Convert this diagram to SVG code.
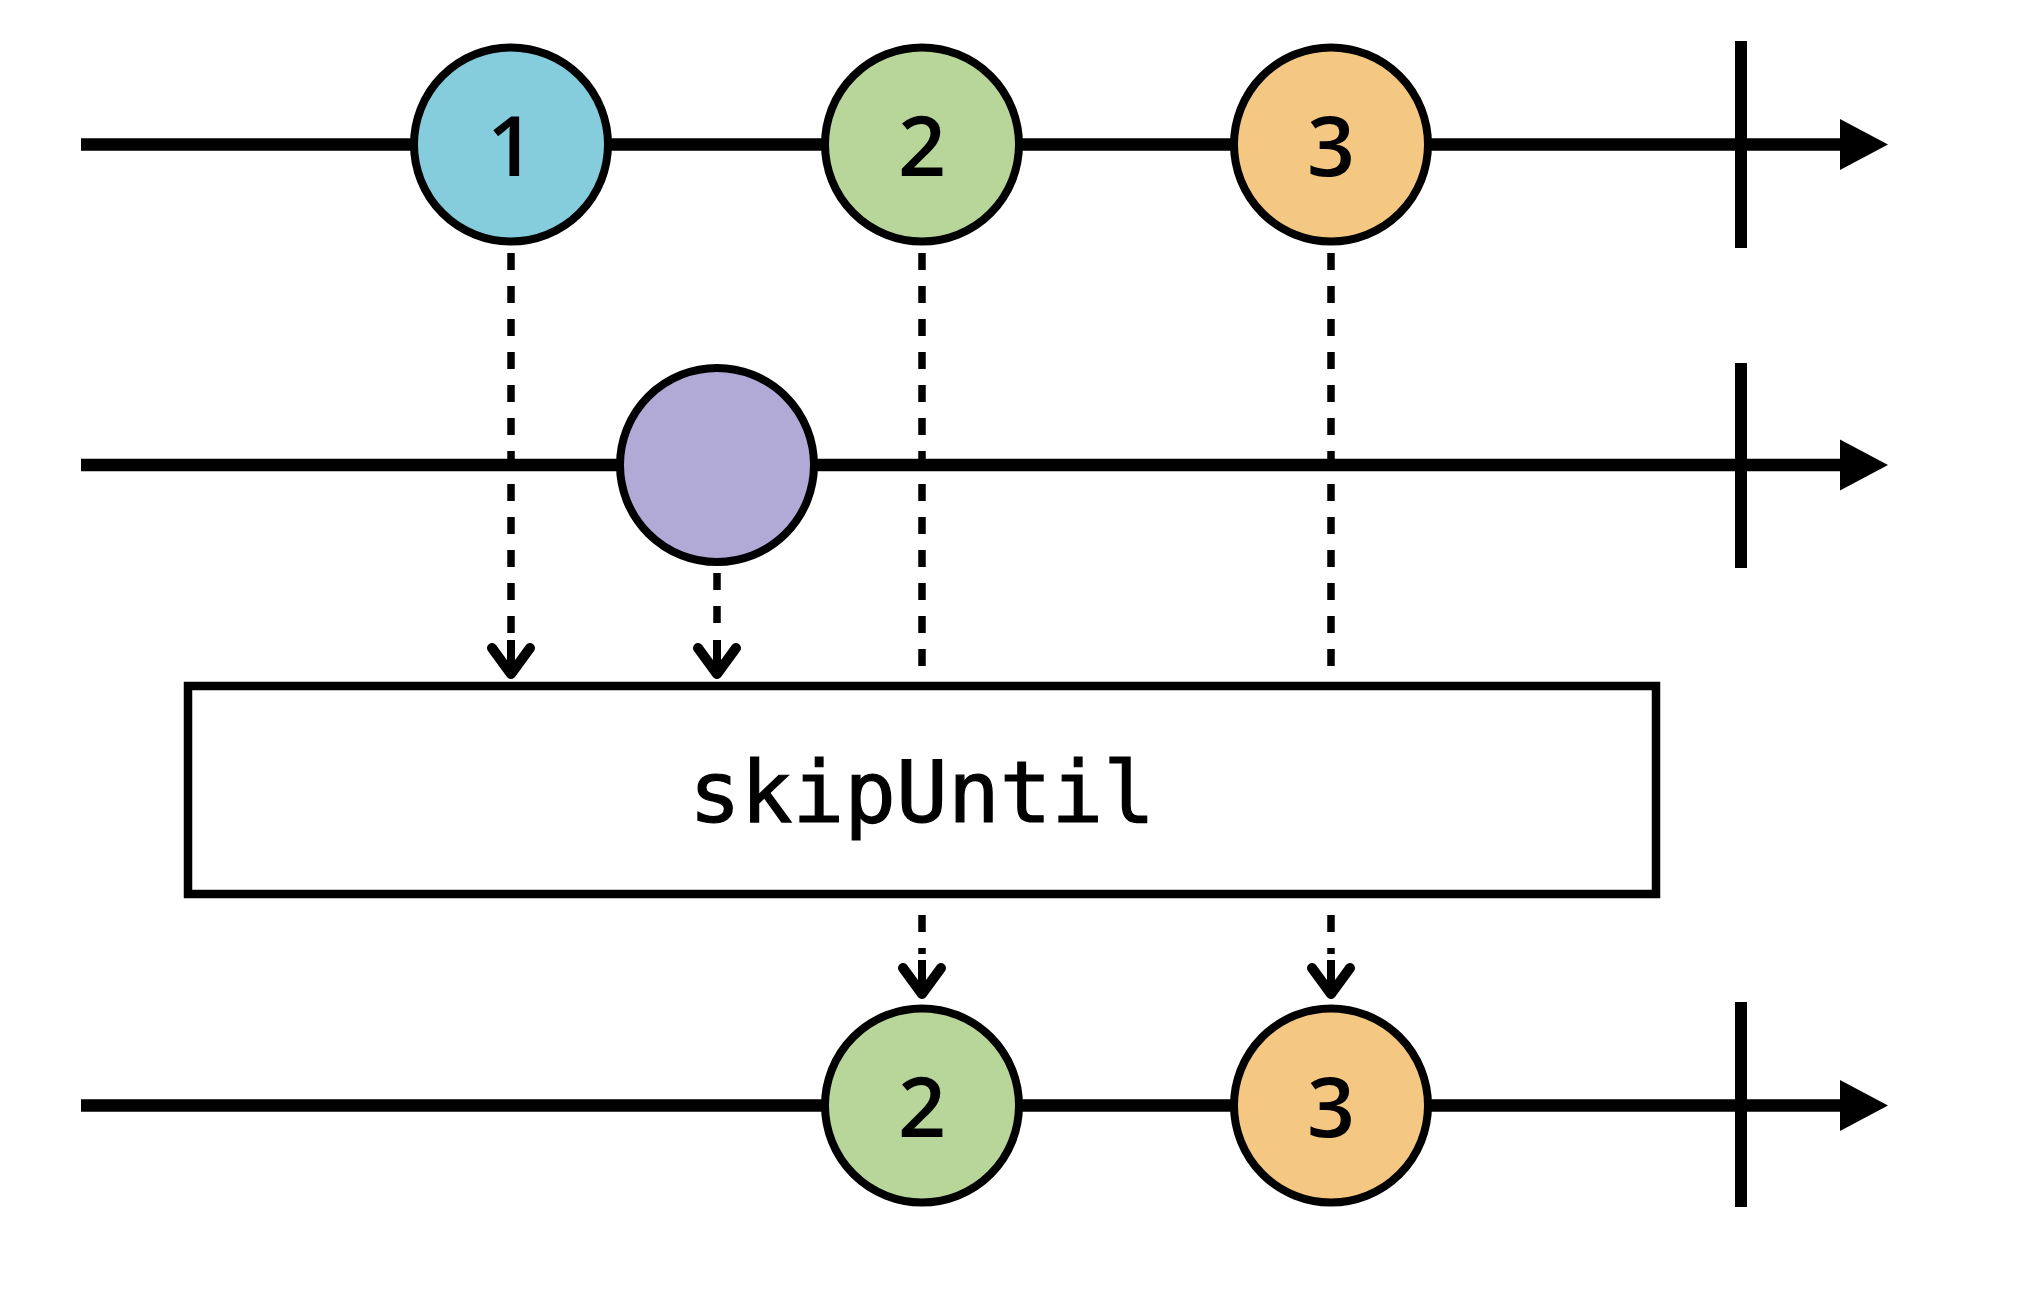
<svg xmlns="http://www.w3.org/2000/svg" width="2044" height="1300" viewBox="0 0 2044 1300">
  <defs>
    <style>
      .timeline { stroke: #000; stroke-width: 12.5; fill: none; }
      .tick { stroke: #000; stroke-width: 12; fill: none; }
      .head { fill: #000; }
      .marble { stroke: #000; stroke-width: 8; }
      .num { font-family: "Open Sans", "DejaVu Sans Condensed", sans-serif; font-weight: 600; font-size: 84px; fill: #000; text-anchor: middle; }
      .dash { stroke: #000; stroke-width: 7.5; stroke-dasharray: 17 16; fill: none; }
      .shaft { stroke: #000; stroke-width: 8; fill: none; }
      .chevron { stroke: #000; stroke-width: 10; fill: none; stroke-linejoin: round; stroke-linecap: round; }
      .op { fill: #fff; stroke: #000; stroke-width: 8.5; }
      .opLabel { font-family: "DejaVu Sans Mono", "Liberation Mono", monospace; font-size: 86px; fill: #000; stroke: #000; stroke-width: 1.2; text-anchor: middle; }
    </style>
  </defs>

  <!-- timelines -->
  <g id="timelines">
    <g id="source">
      <line class="timeline" x1="81" y1="144.5" x2="1845" y2="144.5"/>
      <line class="tick" x1="1741" y1="41" x2="1741" y2="248"/>
      <polygon class="head" points="1840,119 1888,144.5 1840,170"/>
    </g>
    <g id="notifier">
      <line class="timeline" x1="81" y1="465" x2="1845" y2="465"/>
      <line class="tick" x1="1741" y1="363" x2="1741" y2="568"/>
      <polygon class="head" points="1840,439.5 1888,465 1840,490.5"/>
    </g>
    <g id="result">
      <line class="timeline" x1="81" y1="1105.5" x2="1845" y2="1105.5"/>
      <line class="tick" x1="1741" y1="1002" x2="1741" y2="1207"/>
      <polygon class="head" points="1840,1080 1888,1105.5 1840,1131"/>
    </g>
  </g>

  <!-- connectors -->
  <g id="connectors">
    <line class="dash" x1="511" y1="253" x2="511" y2="634"/>
    <line class="shaft" x1="511" y1="640" x2="511" y2="672"/>
    <path class="chevron" d="M492,648 L511,674 L530,648"/>
    <line class="dash" x1="717" y1="573" x2="717" y2="634"/>
    <line class="shaft" x1="717" y1="640" x2="717" y2="672"/>
    <path class="chevron" d="M698,648 L717,674 L736,648"/>
    <line class="dash" x1="922" y1="253" x2="922" y2="666"/>
    <line class="dash" x1="1331" y1="253" x2="1331" y2="666"/>
    <line class="dash" x1="922" y1="915" x2="922" y2="954"/>
    <line class="shaft" x1="922" y1="960" x2="922" y2="992"/>
    <path class="chevron" d="M903,968 L922,994 L941,968"/>
    <line class="dash" x1="1331" y1="915" x2="1331" y2="954"/>
    <line class="shaft" x1="1331" y1="960" x2="1331" y2="992"/>
    <path class="chevron" d="M1312,968 L1331,994 L1350,968"/>
  </g>

  <!-- operator box -->
  <g id="skipUntil">
    <rect class="op" x="188" y="686" width="1468" height="208"/>
    <text class="opLabel" x="922" y="822">skipUntil</text>
  </g>

  <!-- marbles on the source line -->
  <g id="src-1">
    <circle class="marble" cx="511" cy="144.5" r="97" fill="#85CDDD"/>
    <text class="num" x="511" y="176">1</text>
  </g>
  <g id="src-2">
    <circle class="marble" cx="922" cy="144.5" r="97" fill="#B8D59A"/>
    <text class="num" x="922" y="176">2</text>
  </g>
  <g id="src-3">
    <circle class="marble" cx="1331" cy="144.5" r="97" fill="#F4C882"/>
    <text class="num" x="1331" y="176">3</text>
  </g>

  <!-- notifier marble -->
  <g id="notify">
    <circle class="marble" cx="717" cy="465" r="97" fill="#B1AAD7"/>
  </g>

  <!-- marbles on the result line -->
  <g id="out-2">
    <circle class="marble" cx="922" cy="1105.5" r="97" fill="#B8D59A"/>
    <text class="num" x="922" y="1137">2</text>
  </g>
  <g id="out-3">
    <circle class="marble" cx="1331" cy="1105.5" r="97" fill="#F4C882"/>
    <text class="num" x="1331" y="1137">3</text>
  </g>
</svg>
